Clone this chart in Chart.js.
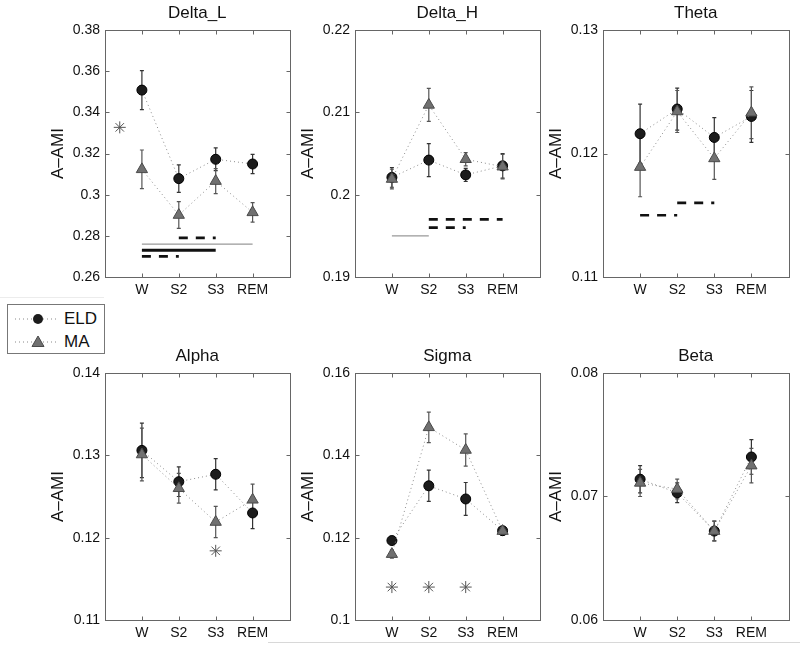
<!DOCTYPE html>
<html>
<head>
<meta charset="utf-8">
<script src="https://cdn.jsdelivr.net/npm/chart.js@4.4.0/dist/chart.umd.min.js"></script>
<style>
  body { margin: 0; width: 800px; height: 645px; overflow: hidden; position: relative; background: #fff;
         font-family: "Liberation Sans", Arial, sans-serif; }
  canvas { position: absolute; }
  #legend { position: absolute; left: 7px; top: 304px; width: 96px; height: 48px; border: 1px solid #777; background: #fff; }
  #legend .row { position: absolute; left: 0; height: 22px; }
  #legend svg { position: absolute; left: 0; top: 0; }
  #legend span { position: absolute; left: 56px; top: 1px; font-size: 17px; color: #111; line-height: 20px; }
  .scan { position: absolute; height: 1px; background: #d8d8d8; }
</style>
</head>
<body>
<div id="legend">
  <div class="row" style="top:3px">
    <svg width="56" height="22"><line x1="7" y1="11" x2="50" y2="11" stroke="#888" stroke-width="1" stroke-dasharray="1 3"/><circle cx="30" cy="11" r="5" fill="#1c1c1c"/></svg>
    <span>ELD</span>
  </div>
  <div class="row" style="top:26px">
    <svg width="56" height="22"><line x1="7" y1="11" x2="50" y2="11" stroke="#888" stroke-width="1" stroke-dasharray="1 3"/><polygon points="30,5 36,15.5 24,15.5" fill="#707070" stroke="#4a4a4a" stroke-width="1"/></svg>
    <span>MA</span>
  </div>
</div>
<div class="scan" style="left:268px; top:642px; width:532px;"></div>
<div class="scan" style="left:0; top:297px; width:104px; background:#ececec;"></div>

<script>
const stages = ['W', 'S2', 'S3', 'REM'];
const stageX = [1, 2, 3, 4];

// Delta_L
const deltaLEld = [0.3508, 0.3078, 0.3172, 0.3149];
const deltaLEldErr = [0.0095, 0.0067, 0.0055, 0.0047];
const deltaLMa = [0.3123, 0.2901, 0.3066, 0.2914];
const deltaLMaErr = [0.0094, 0.0065, 0.0061, 0.0047];
const deltaLTicks = [0.26, 0.28, 0.30, 0.32, 0.34, 0.36, 0.38];
const deltaLStarX = [0.4];
const deltaLStarY = [0.3327];
const deltaLSigFrom = [2, 1, 1, 1];
const deltaLSigTo = [3, 4, 3, 2];
const deltaLSigY = [0.279, 0.276, 0.273, 0.270];
const deltaLSigKind = ['dash', 'thin', 'thick', 'dash'];

// Delta_H
const deltaHEld = [0.2021, 0.2042, 0.2024, 0.2035];
const deltaHEldErr = [0.0012, 0.0020, 0.0008, 0.0015];
const deltaHMa = [0.2019, 0.2109, 0.2043, 0.2034];
const deltaHMaErr = [0.0012, 0.0020, 0.0008, 0.0015];
const deltaHTicks = [0.19, 0.20, 0.21, 0.22];
const deltaHSigFrom = [2, 2, 1];
const deltaHSigTo = [4, 3, 2];
const deltaHSigY = [0.197, 0.196, 0.195];
const deltaHSigKind = ['dash', 'dash', 'thin'];

// Theta
const thetaEld = [0.1216, 0.1236, 0.1213, 0.1230];
const thetaEldErr = [0.0024, 0.0017, 0.0016, 0.0021];
const thetaMa = [0.1189, 0.1234, 0.1196, 0.1233];
const thetaMaErr = [0.0024, 0.0017, 0.0017, 0.0021];
const thetaTicks = [0.11, 0.12, 0.13];
const thetaSigFrom = [2, 1];
const thetaSigTo = [3, 2];
const thetaSigY = [0.116, 0.115];
const thetaSigKind = ['dash', 'dash'];

// Alpha
const alphaEld = [0.1306, 0.1268, 0.1277, 0.1230];
const alphaEldErr = [0.0033, 0.0018, 0.0019, 0.0019];
const alphaMa = [0.1301, 0.1260, 0.1219, 0.1246];
const alphaMaErr = [0.0032, 0.0018, 0.0019, 0.0019];
const alphaTicks = [0.11, 0.12, 0.13, 0.14];
const alphaStarX = [3];
const alphaStarY = [0.1184];

// Sigma
const sigmaEld = [0.1193, 0.1326, 0.1294, 0.1217];
const sigmaEldErr = [0.0008, 0.0038, 0.0040, 0.0010];
const sigmaMa = [0.1160, 0.1468, 0.1413, 0.1216];
const sigmaMaErr = [0.0010, 0.0037, 0.0039, 0.0010];
const sigmaTicks = [0.10, 0.12, 0.14, 0.16];
const sigmaStarX = [1, 2, 3];
const sigmaStarY = [0.108, 0.108, 0.108];

// Beta
const betaEld = [0.0714, 0.0703, 0.0672, 0.0732];
const betaEldErr = [0.0011, 0.0008, 0.0008, 0.0014];
const betaMa = [0.0711, 0.0706, 0.0672, 0.0725];
const betaMaErr = [0.0011, 0.0008, 0.0008, 0.0014];
const betaTicks = [0.06, 0.07, 0.08];

const FONT = '"Liberation Sans", Arial, sans-serif';
const sigStyles = {
  dash:  { color: '#111', width: 2.6, dash: [9, 8] },
  thick: { color: '#111', width: 2.8, dash: [] },
  thin:  { color: '#999', width: 1.3, dash: [] }
};

// error bars, box with inward ticks, panel title
const decorPlugin = {
  id: 'decor',
  beforeDatasetsDraw(chart) {
    const { ctx, scales: { x, y } } = chart;
    chart.data.datasets.forEach(ds => {
      if (!ds.errors) return;
      ctx.save();
      ctx.strokeStyle = ds.errorColor;
      ctx.lineWidth = 1.2;
      ds.data.forEach((p, i) => {
        const px = x.getPixelForValue(p.x);
        const y1 = y.getPixelForValue(p.y + ds.errors[i]);
        const y2 = y.getPixelForValue(p.y - ds.errors[i]);
        ctx.beginPath();
        ctx.moveTo(px, y1); ctx.lineTo(px, y2);
        ctx.moveTo(px - 2, y1); ctx.lineTo(px + 2, y1);
        ctx.moveTo(px - 2, y2); ctx.lineTo(px + 2, y2);
        ctx.stroke();
      });
      ctx.restore();
    });
  },
  afterDraw(chart, args, opts) {
    const { ctx, chartArea: a, scales: { x, y } } = chart;
    const L = Math.round(a.left) + 0.5, R = Math.round(a.right) + 0.5;
    const T = Math.round(a.top) + 0.5, B = Math.round(a.bottom) + 0.5;
    ctx.save();
    ctx.strokeStyle = '#666';
    ctx.lineWidth = 1;
    ctx.strokeRect(L, T, R - L, B - T);
    ctx.beginPath();
    y.ticks.forEach(t => {
      const py = Math.round(y.getPixelForValue(t.value)) + 0.5;
      ctx.moveTo(L, py); ctx.lineTo(L + 4, py);
      ctx.moveTo(R, py); ctx.lineTo(R - 4, py);
    });
    x.ticks.forEach(t => {
      const px = Math.round(x.getPixelForValue(t.value)) + 0.5;
      ctx.moveTo(px, B); ctx.lineTo(px, B - 4);
      ctx.moveTo(px, T); ctx.lineTo(px, T + 4);
    });
    ctx.stroke();
    ctx.fillStyle = '#111';
    ctx.font = '17px ' + FONT;
    ctx.textAlign = 'center';
    ctx.textBaseline = 'middle';
    ctx.fillText(opts.text, (a.left + a.right) / 2, a.top - 17);
    ctx.restore();
  }
};

function points(xs, ys) {
  return xs.map((v, i) => ({ x: v, y: ys[i] }));
}

function makePanel(left, top, plotW, title, ticks, eld, eldErr, ma, maErr, extra) {
  const plotH = 247;
  const canvas = document.createElement('canvas');
  canvas.width = 60 + plotW + 3;
  canvas.height = 30 + plotH + 30;
  canvas.style.left = (left - 60) + 'px';
  canvas.style.top = (top - 30) + 'px';
  document.body.appendChild(canvas);

  const datasets = [
    {
      label: 'ELD', data: points(stageX, eld), errors: eldErr, errorColor: '#333',
      borderColor: '#8c8c8c', borderWidth: 1, borderDash: [1, 3],
      pointStyle: 'circle', pointRadius: 5, pointBackgroundColor: '#1c1c1c',
      pointBorderColor: '#000', pointBorderWidth: 1, order: 2
    },
    {
      label: 'MA', data: points(stageX, ma), errors: maErr, errorColor: '#555',
      borderColor: '#8c8c8c', borderWidth: 1, borderDash: [1, 3],
      pointStyle: 'triangle', pointRadius: 6.5, pointBackgroundColor: '#707070',
      pointBorderColor: '#4a4a4a', pointBorderWidth: 1, order: 1
    }
  ];
  if (extra.starX) {
    datasets.push({
      type: 'scatter', data: points(extra.starX, extra.starY), pointStyle: 'star',
      pointRadius: 6, borderColor: '#555', borderWidth: 1, order: 3
    });
  }
  if (extra.sigY) {
    extra.sigY.forEach((v, i) => {
      const s = sigStyles[extra.sigKind[i]];
      datasets.push({
        data: [{ x: extra.sigFrom[i], y: v }, { x: extra.sigTo[i], y: v }],
        borderColor: s.color, borderWidth: s.width, borderDash: s.dash,
        borderCapStyle: 'butt', pointRadius: 0, order: 4
      });
    });
  }

  new Chart(canvas, {
    type: 'line',
    data: { datasets },
    options: {
      responsive: false,
      animation: false,
      devicePixelRatio: 1,
      layout: { padding: { top: 30, right: 3, left: 0, bottom: 0 } },
      plugins: {
        legend: { display: false },
        tooltip: { enabled: false },
        decor: { text: title }
      },
      scales: {
        x: {
          type: 'linear', min: 0, max: 5,
          afterBuildTicks: s => { s.ticks = stageX.map(v => ({ value: v })); },
          afterFit: s => { s.height = 30; },
          grid: { display: false, drawTicks: false, tickLength: 0 },
          border: { display: false },
          ticks: { callback: v => stages[v - 1], font: { size: 14, family: FONT }, color: '#111', padding: 5, maxRotation: 0 }
        },
        y: {
          type: 'linear', min: ticks[0], max: ticks[ticks.length - 1],
          afterBuildTicks: s => { s.ticks = ticks.map(v => ({ value: v })); },
          afterFit: s => { s.width = 60; },
          grid: { display: false, drawTicks: false, tickLength: 0 },
          border: { display: false },
          ticks: { callback: v => String(+v.toFixed(3)), font: { size: 14, family: FONT }, color: '#111', padding: 5 },
          title: { display: true, text: 'A–AMI', font: { size: 17, family: FONT }, color: '#111', padding: { top: 3, bottom: 0 } }
        }
      }
    },
    plugins: [decorPlugin]
  });
}

makePanel(105, 30, 189, 'Delta_L', deltaLTicks, deltaLEld, deltaLEldErr, deltaLMa, deltaLMaErr,
  { starX: deltaLStarX, starY: deltaLStarY, sigFrom: deltaLSigFrom, sigTo: deltaLSigTo, sigY: deltaLSigY, sigKind: deltaLSigKind });
makePanel(355, 30, 189, 'Delta_H', deltaHTicks, deltaHEld, deltaHEldErr, deltaHMa, deltaHMaErr,
  { sigFrom: deltaHSigFrom, sigTo: deltaHSigTo, sigY: deltaHSigY, sigKind: deltaHSigKind });
makePanel(603, 30, 190, 'Theta', thetaTicks, thetaEld, thetaEldErr, thetaMa, thetaMaErr,
  { sigFrom: thetaSigFrom, sigTo: thetaSigTo, sigY: thetaSigY, sigKind: thetaSigKind });
makePanel(105, 373, 189, 'Alpha', alphaTicks, alphaEld, alphaEldErr, alphaMa, alphaMaErr,
  { starX: alphaStarX, starY: alphaStarY });
makePanel(355, 373, 189, 'Sigma', sigmaTicks, sigmaEld, sigmaEldErr, sigmaMa, sigmaMaErr,
  { starX: sigmaStarX, starY: sigmaStarY });
makePanel(603, 373, 190, 'Beta', betaTicks, betaEld, betaEldErr, betaMa, betaMaErr, {});
</script>
</body>
</html>
